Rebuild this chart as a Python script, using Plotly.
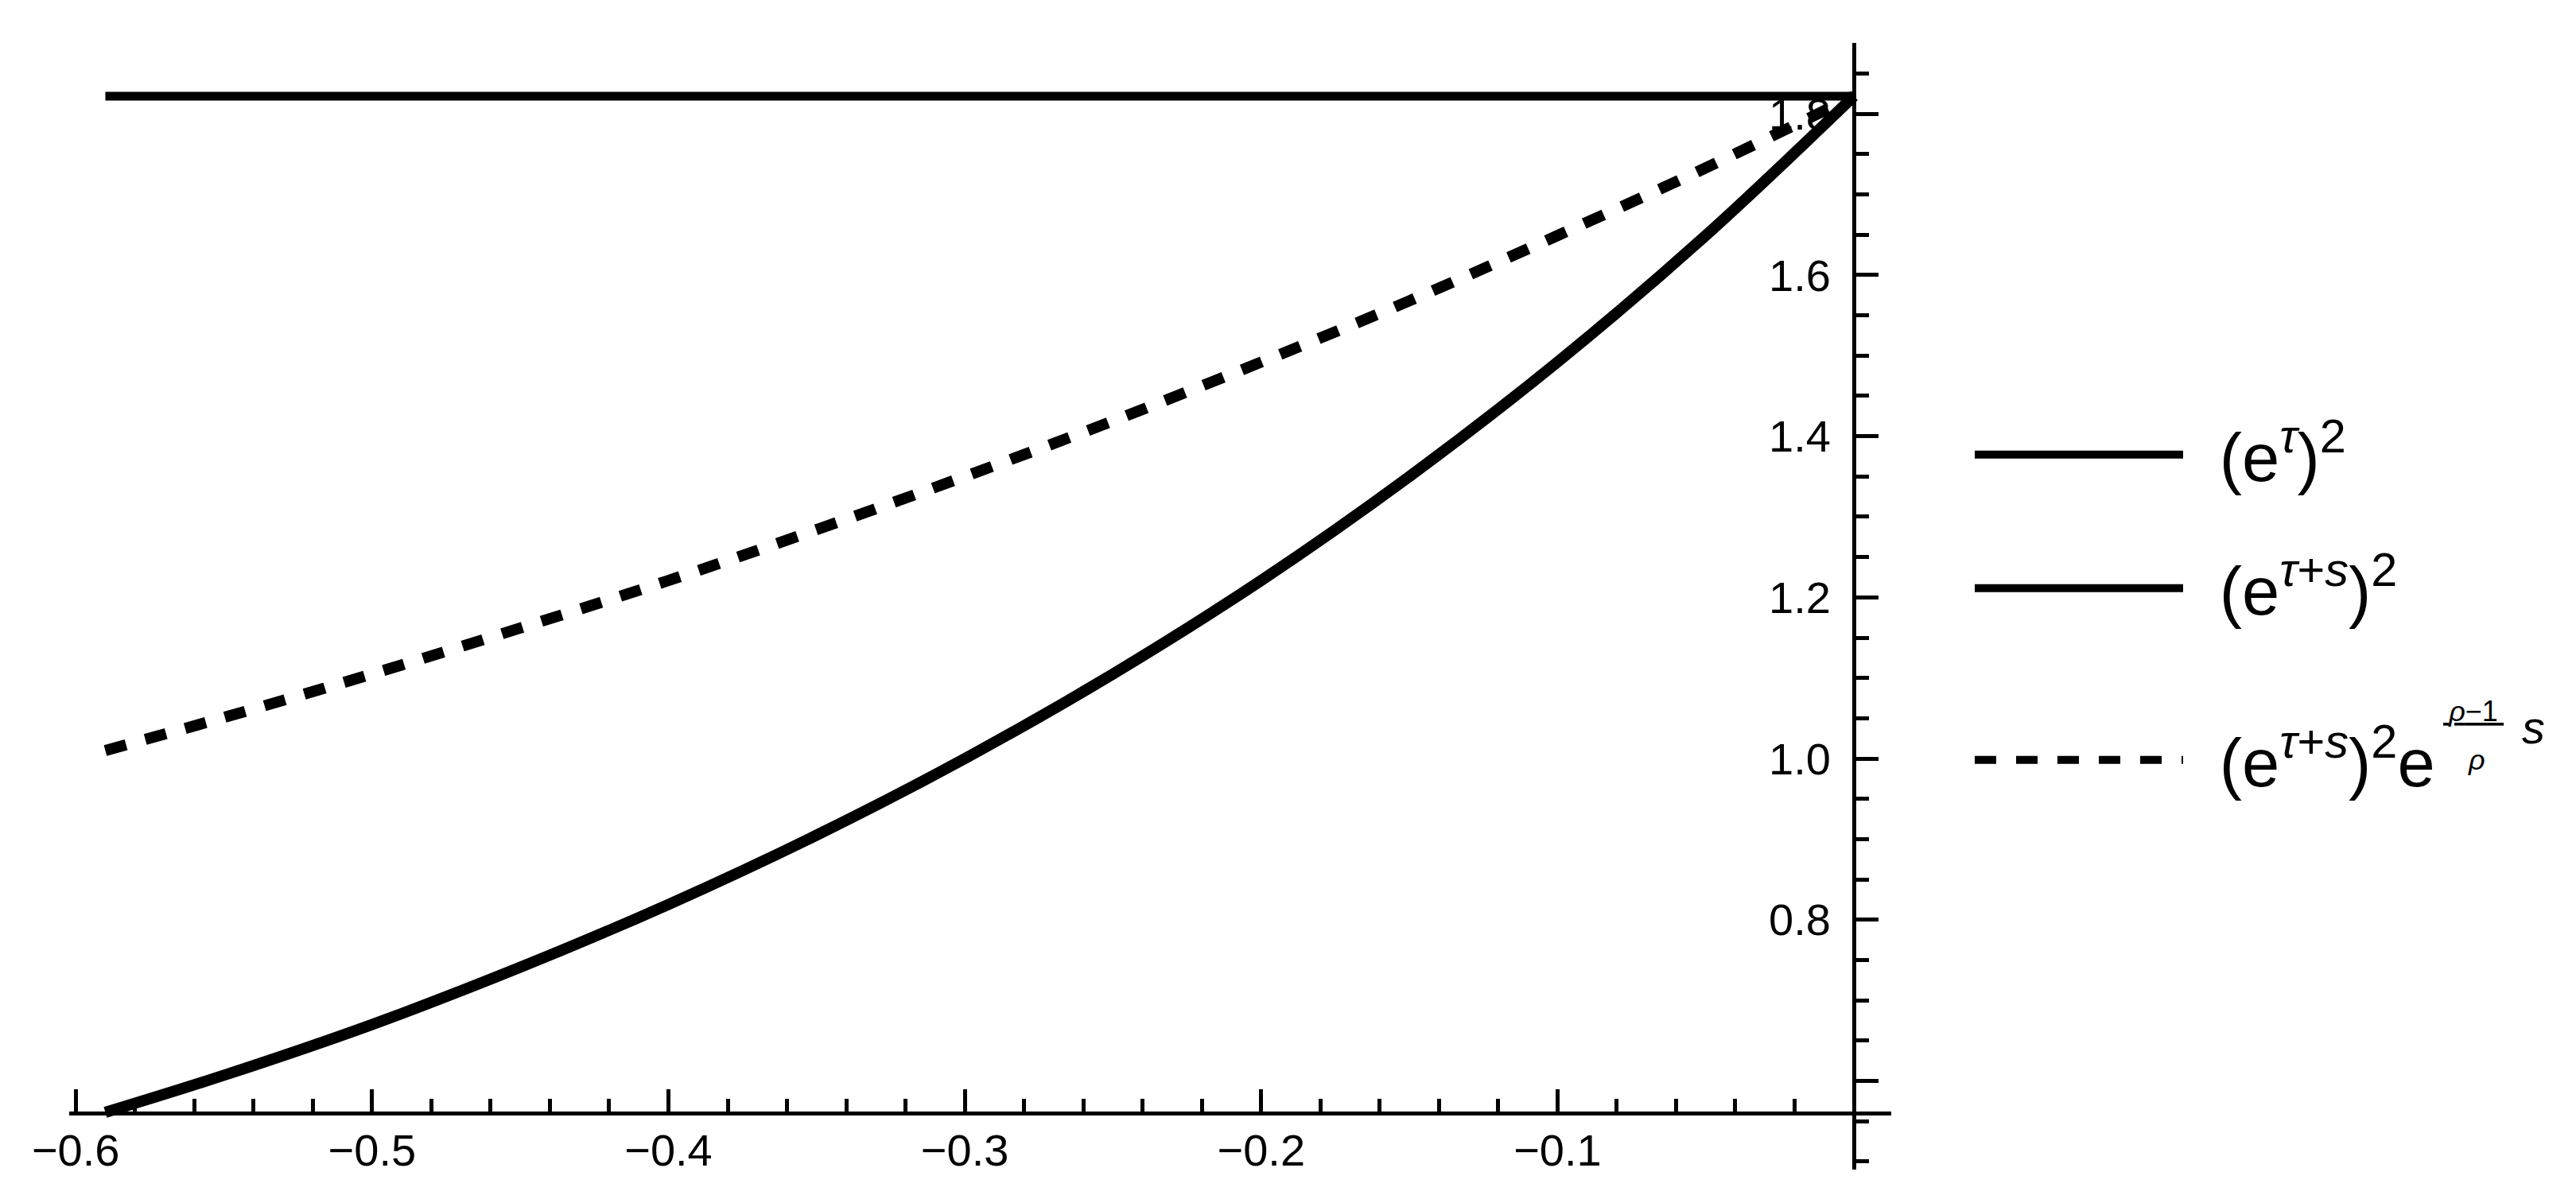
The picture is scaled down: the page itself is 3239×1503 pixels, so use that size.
import plotly.graph_objects as go

# values
tau_x = [-0.59, 0.0]
tau_y = [1.822, 1.822]

s_vals = [-0.59, -0.55, -0.5, -0.45, -0.4, -0.35, -0.3, -0.25, -0.2, -0.15, -0.1, -0.05, 0.0]
tau_s_sq = [0.561, 0.607, 0.670, 0.741, 0.819, 0.905, 1.000, 1.105, 1.221, 1.350, 1.492, 1.649, 1.822]
tau_s_rho = [1.010, 1.051, 1.105, 1.162, 1.221, 1.284, 1.350, 1.419, 1.492, 1.568, 1.649, 1.733, 1.822]

x_ticks = [-0.6, -0.5, -0.4, -0.3, -0.2, -0.1]
x_labels = ["−0.6", "−0.5", "−0.4", "−0.3", "−0.2", "−0.1"]
y_ticks = [0.6, 0.8, 1.0, 1.2, 1.4, 1.6, 1.8]
y_labels = ["", "0.8", "1.0", "1.2", "1.4", "1.6", "1.8"]

nb = "\u00a0"
thin = "\u2009"
names = [
    nb + thin + "(e<sup><i>τ</i></sup>)<sup>2</sup>",
    nb + thin + "(e<sup><i>τ</i>+<i>s</i></sup>)<sup>2</sup>",
    nb + thin + "(e<sup><i>τ</i>+<i>s</i></sup>)<sup>2</sup>e",
]

W, H = 3239, 1503
L, R, T, B = 79, 869, 46, 40
pw, ph = W - L - R, H - T - B
x_lo, x_hi = -0.6022, 0.0126
y_lo, y_hi = 0.49, 1.888
x_axis_at = 0.56   # y value where the horizontal axis sits

fig = go.Figure()
fig.add_trace(go.Scatter(x=tau_x, y=tau_y, mode="lines", name=names[0],
                         line=dict(color="black", width=11), legend="legend"))
fig.add_trace(go.Scatter(x=s_vals, y=tau_s_sq, mode="lines", name=names[1],
                         line=dict(color="black", width=14, shape="spline"), legend="legend2"))
fig.add_trace(go.Scatter(x=s_vals, y=tau_s_rho, mode="lines", name=names[2],
                         line=dict(color="black", width=14, shape="spline", dash="27px,25px"),
                         legend="legend3"))

leg = dict(xref="container", yref="container", x=2470 / W, xanchor="left", yanchor="middle",
           font=dict(size=85, color="black"), itemwidth=262, bgcolor="rgba(0,0,0,0)")
fig.update_layout(
    width=W, height=H,
    margin=dict(l=L, r=R, t=T, b=B, pad=0),
    plot_bgcolor="white", paper_bgcolor="white",
    font=dict(family="Liberation Sans, Arial", size=56, color="black"),
    showlegend=True,
    legend=dict(leg, y=1 - 564 / H),
    legend2=dict(leg, y=1 - 732 / H),
    legend3=dict(leg, y=1 - 948 / H),
)

axis_common = dict(showgrid=False, zeroline=False, showline=True, linecolor="black", linewidth=5,
                   ticks="inside", ticklen=28, tickwidth=5, tickcolor="black", anchor="free")
fig.update_xaxes(axis_common, range=[x_lo, x_hi],
                 position=(x_axis_at - y_lo) / (y_hi - y_lo),
                 tickvals=x_ticks, ticktext=x_labels, ticklabelstandoff=-4,
                 minor=dict(dtick=0.02, tick0=0, ticks="inside", ticklen=16, tickwidth=5,
                            tickcolor="black", showgrid=False))
fig.update_yaxes(axis_common, range=[y_lo, y_hi],
                 position=(0 - x_lo) / (x_hi - x_lo),
                 tickvals=y_ticks, ticktext=y_labels, ticklabelstandoff=16, layer="below traces",
                 minor=dict(dtick=0.05, tick0=0, ticks="inside", ticklen=16, tickwidth=5,
                            tickcolor="black", showgrid=False))


def legend_text(px, py, text, size):
    fig.add_annotation(xref="paper", yref="paper", x=(px - L) / pw, y=(H - B - py) / ph,
                       text=text, showarrow=False, font=dict(size=size, color="black"),
                       xanchor="center", yanchor="middle")


# exponent (rho-1)/rho s of the third legend entry
legend_text(3102, 886, "<u>" + thin + "<i>ρ</i>−1" + thin + "</u>", 36)
legend_text(3106, 947, "<i>ρ</i>", 36)
legend_text(3177, 906, "<i>s</i>", 58)

fig.write_html("out.html")
